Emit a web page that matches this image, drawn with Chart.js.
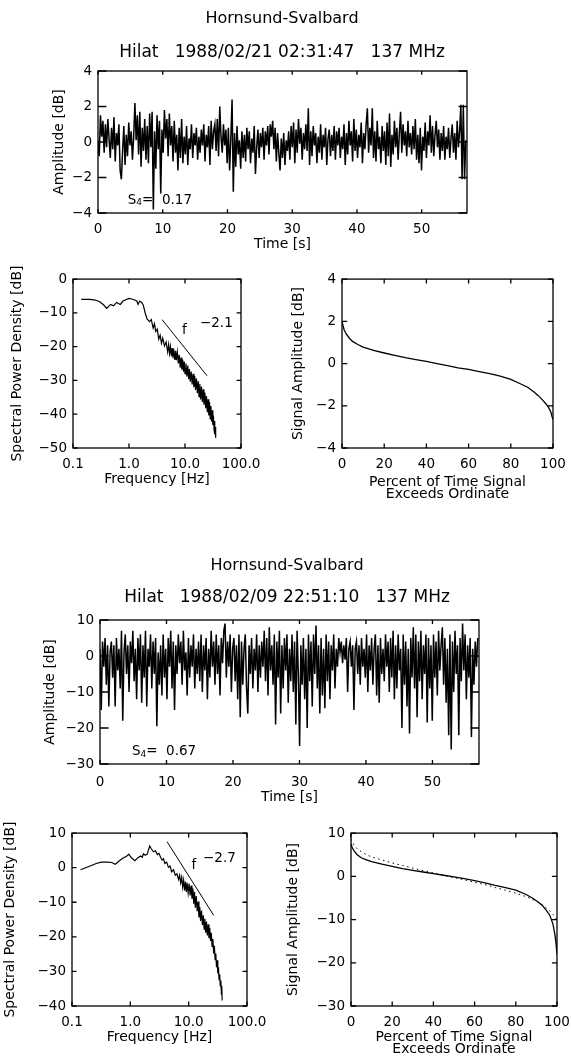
<!DOCTYPE html>
<html>
<head>
<meta charset="utf-8">
<script src="https://cdn.jsdelivr.net/npm/chart.js@4.4.1/dist/chart.umd.min.js"></script>
<style>
html, body { margin: 0; padding: 0; background: #fff; }
body { width: 571px; height: 1059px; position: relative; overflow: hidden; }
canvas { position: absolute; }
</style>
</head>
<body>
<canvas id="ampTop"></canvas>
<canvas id="psdTop"></canvas>
<canvas id="cdfTop"></canvas>
<canvas id="ampBottom"></canvas>
<canvas id="psdBottom"></canvas>
<canvas id="cdfBottom"></canvas>
<script>
// --- data ---
const timeStep = 0.19; // s between samples

// 1988/02/21 02:31:47 amplitude [dB]
const ampTop = [
    0.1, -0.8, 1.5, 0.3, 1.2, -0.6, 1.0, -0.3, 1.3, 0.2,
    -0.9, 0.8, -0.4, 1.4, -1.1, 0.5, -0.2, 1.0, -1.6, -2.1,
    -0.5, 0.9, -1.3, 0.4, -0.8, 1.1, -0.2, 0.6, -1.0, 0.3,
    2.2, 0.1, 1.5, -0.7, 1.7, -1.4, 0.8, -0.5, 1.3, -1.0,
    0.9, -1.2, 1.6, -0.3, 1.7, -3.8, 0.6, -1.5, 1.5, -0.4,
    1.2, -2.9, 0.7, -0.6, 1.8, 0.2, 1.3, -0.8, 1.6, -0.2,
    0.9, -1.1, 1.2, -0.6, 0.4, -1.6, 0.8, -0.9, 1.3, -1.2,
    0.3, -0.7, 0.9, -1.3, 0.2, -0.4, 1.0, -0.9, 0.5, -0.2,
    0.8, -1.0, 0.3, -0.6, 0.7, -0.2, 1.0, -1.1, 0.4, -0.3,
    0.9, -1.3, 1.2, -0.4, 0.6, 1.0, -0.5, 1.3, -0.8, 2.0,
    0.3, -0.6, 1.0, -0.2, 0.7, -1.2, 0.8, -1.6, 0.2, 2.4,
    -2.8, 0.5, -1.4, 0.9, -0.7, 0.1, -1.5, 0.6, -0.9, 0.4,
    -1.1, 0.8, -0.4, 0.6, -1.2, 0.2, -0.6, 0.9, -1.8, -0.3,
    0.7, -0.9, 0.5, -0.3, 0.8, -1.0, 0.6, -0.2, 0.9, -0.7,
    1.0, 0.3, 1.2, -0.4, 0.8, -1.1, 0.5, -0.6, -1.6, 0.2,
    -0.9, 0.5, -1.3, 0.1, -0.5, 0.6, -1.0, 0.9, -0.3, 1.1,
    -1.2, 0.7, -0.6, 1.3, -0.1, 0.8, -1.0, 0.5, -0.4, 1.0,
    -0.5, 1.9, -1.3, 0.6, -0.8, 0.9, -0.2, 0.5, -1.2, 0.3,
    -0.6, 1.0, -1.0, 0.4, -0.3, 0.8, -1.3, 0.2, 0.7, -0.8,
    0.4, -0.5, 0.9, -1.0, 0.6, -0.2, 0.8, -0.9, 0.3, -0.4,
    1.0, -1.3, 0.5, -0.7, 1.2, -0.2, 0.6, -1.1, 1.3, -0.5,
    0.7, -0.9, 0.4, -0.3, 1.1, -1.2, 0.5, -0.4, 1.0, 1.9,
    -0.6, 0.8, -0.2, 1.9, -0.9, 0.6, -1.1, 1.2, -0.4, 0.3,
    -1.2, 0.9, -0.5, 0.6, -1.3, 1.1, -0.8, 1.6, -1.4, 0.4,
    -0.7, 1.2, -0.3, 0.8, -1.0, 0.5, 1.7, -0.6, 1.0, -0.2,
    0.6, -0.8, 1.2, -0.3, 0.5, -0.7, 0.9, -0.4, 1.3, -1.0,
    0.4, -1.2, 0.8, -1.6, 0.3, -0.5, 1.1, -0.9, 0.6, -0.2,
    1.5, -0.6, 0.9, -0.8, 0.4, 1.2, -0.3, 0.7, -1.0, 0.5,
    -0.5, 0.9, -1.0, 0.3, -0.4, 0.8, -0.9, 0.2, 1.0, -0.6,
    0.5, -1.0, 1.2, -0.3, 0.6, 2.1, -2.1, 2.1, -2.1, 0.1
];

// 1988/02/09 22:51:10 amplitude [dB]
const ampBottom = [
    2, -15, 4, -3, 5, -8, 3, -14, 1, 4,
    -6, 3, -14, 5, -4, 2, -9, 7, -18, 1,
    6, -5, 3, -10, 4, -2, 7, -7, 2, -12,
    5, -4, 6, -13, 3, -6, 7, -14, 2, -3,
    6, -9, 4, -5, 5, -19.5, 1, -8, 3, -11,
    6, -6, 2, -12, 5, -3, 7, -9, 4, -15,
    3, -5, 6, -2, 4, -8, 7, -4, 1, -11,
    5, -6, 3, -3, 6, -9, 2, -5, 4, -7,
    6, -10, 3, -4, 5, -12, 2, -6, 7, -3,
    4, -8, 6, -5, 3, -11, 5, -2, 7, 9,
    -6, 4, -3, 6, -10, 2, 5, -7, 3, -12,
    6, -17, 4, -8, 2, 6, -9, -16, 3, -5,
    5, -9, 2, -4, 6, -10, 3, -6, 4, -3,
    7, -7, 5, -11, 8, -4, 3, -8, 6, -19,
    4, -6, 7, -16, 3, -9, 5, -4, 6, -13,
    2, -7, 6, -10, 4, -19, 7, -5, -25, 3,
    -8, 5, -12, 2, -20, 6, -7, 4, -14, 6,
    -5, 8.5, -9, 3, -16, 5, -11, 2, -14.5, 6,
    -7, 4, -12, 3, -4, 6, -9, 2, -3, 5,
    1, 4, -2, 3, -1, 5, -10, 2, 4, -3,
    3, -15, 2, 4, -5, 3, -8, 5, -3, 2,
    -6, 6, -10, 3, -4, 5, -8, 2, 6, -11,
    3, -13, 5, -5, 2, -7, 6, -3, 4, -10,
    5, -6, 7, -12, 3, -9, 6, -4, 2, -20,
    6, -8, 4, -14, 2, -21.5, 5, -6, 8, -9,
    6, -17, 4, -7, 7, -12, 3, -5, 6, -18.5,
    5, -9, 3, -18, 6, -6, 4, -11, 7, -4,
    3, 8, -8, 5, -13, 2, -22, 6, -26, 4,
    -10, 7, -5, 3, -22, 5, -7, 9, -4, 6,
    -12, 3, -6, 5, -22.5, 2, -8, 4, -3, 5
];

// spectra: frequency [Hz] and spectral power density [dB]
const freqTop = [0.14, 0.2, 0.25, 0.3, 0.35, 0.4, 0.47, 0.53, 0.6, 0.7, 0.78, 0.88, 1.0, 1.12, 1.26, 1.38, 1.45, 1.55, 1.7, 1.8,
    1.95, 2.1, 2.33, 2.5, 2.7, 2.85, 3.0, 3.2, 3.4, 3.6, 3.8, 4.0, 4.3, 4.6,
    4.9, 5.1, 5.3, 5.5, 5.7, 5.9, 6.1, 6.3, 6.6, 6.8, 7.0, 7.3, 7.6, 7.9, 8.2, 8.5, 8.8, 9.1, 9.4, 9.7,
    10.0, 10.4, 10.8, 11.2, 11.6, 12.0, 12.4, 12.9, 13.4, 13.9, 14.4, 14.9, 15.4, 16.0, 16.6, 17.2, 17.8, 18.4, 19.0, 19.7,
    20.4, 21.1, 21.8, 22.6, 23.4, 24.2, 25.0, 25.8, 26.6, 27.4, 28.2, 29.0, 29.8, 30.6, 31.4, 32.2, 33.0, 33.7, 34.3, 34.8, 35.3];
const psdTop = [-6.0, -6.0, -6.2, -6.7, -7.6, -8.7, -7.5, -7.9, -6.9, -7.5, -6.5, -6.1, -5.7, -5.9, -6.2, -6.5, -7.5, -6.5, -7.0, -7.7,
    -10.1, -11.8, -12.6, -12.0, -14.5, -13.2, -15.5, -14.8, -17.8, -16.6, -19.0, -17.5, -19.8, -18.6,
    -21.6, -19.4, -22.0, -20.0, -22.8, -20.4, -23.4, -20.8, -23.9, -21.2, -24.0, -21.6, -25.0, -22.4, -26.2, -23.2, -26.8, -23.8, -27.4, -24.4,
    -28.0, -25.0, -28.8, -25.6, -29.6, -26.6, -30.4, -27.4, -31.2, -28.0, -32.0, -28.6, -32.8, -29.4, -33.8, -30.2, -34.8, -31.0, -35.6, -31.8,
    -36.4, -32.6, -37.2, -33.6, -38.2, -34.6, -39.4, -35.6, -40.4, -36.4, -41.4, -37.6, -42.2, -38.8, -43.2, -40.4, -44.6, -42.0, -46.0, -43.8, -47.0];
const fitFreqTop = [3.9, 24.7];
const fitPsdTop = [-12.0, -28.6];

const freqBottom = [0.14, 0.2, 0.26, 0.32, 0.4, 0.48, 0.55, 0.65, 0.75, 0.85, 0.94, 1.05, 1.2, 1.35, 1.5, 1.6, 1.68, 1.8, 1.95, 2.05,
    2.15, 2.3, 2.5, 2.7, 2.9, 3.1, 3.3, 3.5, 3.7, 3.9, 4.2, 4.5, 4.8, 5.1, 5.5, 5.9, 6.3,
    6.7, 7.0, 7.3, 7.6, 7.9, 8.2, 8.5, 8.8, 9.1, 9.4, 9.8, 10.2, 10.6, 11.0, 11.4, 11.8, 12.2, 12.6, 13.0, 13.5,
    14.0, 14.5, 15.0, 15.5, 16.0, 16.6, 17.2, 17.8, 18.4, 19.0, 19.6, 20.2, 20.9, 21.6, 22.3, 23.0, 23.7, 24.4,
    25.2, 26.0, 26.8, 27.6, 28.4, 29.2, 30.0, 30.8, 31.6, 32.4, 33.2, 34.0, 34.8, 35.6, 36.4, 37.0, 37.5];
const psdBottom = [-0.6, 0.4, 1.2, 1.6, 1.6, 1.5, 1.0, 2.0, 2.8, 3.2, 3.9, 2.8, 2.0, 2.9, 3.4, 3.0, 4.0, 3.6, 3.9, 5.2,
    6.3, 5.4, 4.6, 4.9, 3.8, 4.1, 3.0, 2.2, 2.6, 1.2, 1.6, 0.1, 0.5, -1.2, -0.6, -2.2, -1.8,
    -3.4, -2.2, -4.4, -2.8, -5.6, -3.6, -6.6, -4.0, -7.0, -4.4, -7.4, -4.6, -8.0, -5.2, -9.0, -6.0, -10.4, -7.0, -11.6, -8.2,
    -12.6, -9.8, -14.4, -11.4, -15.4, -12.4, -16.6, -13.8, -17.8, -14.8, -18.8, -15.6, -19.6, -16.4, -20.4, -17.4, -21.2, -18.8,
    -22.8, -20.6, -24.8, -22.6, -26.6, -24.8, -28.8, -26.8, -30.6, -28.8, -32.4, -30.8, -34.2, -32.6, -36.6, -34.2, -38.4];
const fitFreqBottom = [4.27, 26.9];
const fitPsdBottom = [7.5, -13.8];

// amplitude distributions: percent of time exceeded, level [dB]
const pctTop = [0, 0.5, 1, 2, 3.5, 5, 7.5, 10, 15, 20, 25, 30, 35, 40, 45, 50, 55, 60, 65, 70, 75, 80, 85, 88, 91, 93, 95, 97, 98, 99, 99.5, 100];
const levelTop = [2.0, 1.8, 1.6, 1.4, 1.2, 1.05, 0.9, 0.78, 0.62, 0.5, 0.39, 0.28, 0.19, 0.1, 0.0, -0.1, -0.2, -0.28, -0.38, -0.48, -0.6, -0.75, -0.98, -1.12, -1.35, -1.52, -1.72, -1.95, -2.1, -2.3, -2.5, -2.65];

const pctBottom = [0, 0.5, 1.5, 3, 5, 7.5, 10, 15, 20, 25, 30, 35, 40, 45, 50, 55, 60, 65, 70, 75, 80, 85, 88, 91, 93, 95, 96.5, 98, 99, 99.5, 100];
const levelBottom = [7.6, 6.7, 5.9, 5.0, 4.3, 3.8, 3.4, 2.8, 2.3, 1.8, 1.4, 1.0, 0.6, 0.25, -0.15, -0.55, -1.0, -1.5, -2.1, -2.6, -3.2, -4.2, -5.0, -6.0, -6.8, -8.0, -9.0, -11.0, -13.5, -15.5, -18.0];
const modelBottom = [8.6, 8.0, 7.2, 6.4, 5.7, 5.0, 4.5, 3.8, 3.1, 2.5, 1.9, 1.3, 0.8, 0.2, -0.3, -0.8, -1.4, -1.9, -2.6, -3.2, -3.9, -4.7, -5.3, -6.0, -6.6, -7.4, -8.0, -8.8, -9.4, -9.8, -10.2];

const freqTicks = [0.1, 1, 10, 100];

// --- drawing ---
const FONT = '"DejaVu Sans", sans-serif';
Chart.defaults.font.family = FONT;
Chart.defaults.color = '#000';

function pairs(xs, ys) {
    return xs.map((x, i) => ({ x: x, y: ys[i] }));
}
function series(values) {
    return values.map((v, i) => ({ x: i * timeStep, y: v }));
}
function minusLabel(v) {
    return v < 0 ? '\u2212' + Math.abs(v) : String(v);
}

// IDL style box: full frame, inward ticks on all four sides, text notes
const decor = {
    id: 'decor',
    afterDraw(chart, args, o) {
        const { ctx, chartArea: a } = chart;
        const xs = chart.scales.x, ys = chart.scales.y;
        ctx.save();
        ctx.strokeStyle = '#000';
        ctx.lineWidth = 1.3;
        ctx.strokeRect(a.left, a.top, a.right - a.left, a.bottom - a.top);
        const xLen = 0.02 * (a.bottom - a.top) + 1;
        const yLen = 0.02 * (a.right - a.left) + 1;
        ctx.beginPath();
        xs.ticks.forEach(t => {
            const px = xs.getPixelForValue(t.value);
            ctx.moveTo(px, a.bottom); ctx.lineTo(px, a.bottom - xLen);
            ctx.moveTo(px, a.top); ctx.lineTo(px, a.top + xLen);
        });
        ys.ticks.forEach(t => {
            const py = ys.getPixelForValue(t.value);
            ctx.moveTo(a.left, py); ctx.lineTo(a.left + yLen, py);
            ctx.moveTo(a.right, py); ctx.lineTo(a.right - yLen, py);
        });
        ctx.stroke();

        ctx.fillStyle = '#000';
        ctx.textBaseline = 'middle';
        ctx.textAlign = 'left';
        (o.notes || []).forEach(n => {
            let x = xs.getPixelForValue(n.x);
            const y = ys.getPixelForValue(n.y);
            n.parts.forEach(p => {
                ctx.font = p.size + 'px ' + FONT;
                ctx.fillText(p.text, x, y + (p.dy || 0));
                x += ctx.measureText(p.text).width;
            });
        });
        if (o.heading) {
            const h = o.heading;
            ctx.textAlign = 'center';
            h.lines.forEach((s, i) => {
                ctx.font = h.sizes[i] + 'px ' + FONT;
                ctx.fillText(s, h.x - o.left, h.y[i] - o.top);
            });
        }
        ctx.restore();
    }
};

function panel(id, p) {
    const canvas = document.getElementById(id);
    const area = p.area;
    const left = Math.round(p.yTitleX - 8.4);
    const top = p.top !== undefined ? p.top : area.t - 14;
    const right = area.r + 40;
    const xTitleLH = p.xTitleLH || 16.8;
    const bottom = Math.round(p.xTitleLast + xTitleLH / 2);
    canvas.width = right - left;
    canvas.height = bottom - top;
    canvas.style.left = left + 'px';
    canvas.style.top = top + 'px';
    const yWidth = area.l - left;
    const xHeight = bottom - area.b;

    const x = Object.assign({
        type: 'linear',
        position: 'bottom',
        grid: { display: false, drawTicks: false },
        border: { display: false },
        title: { display: true, text: p.xTitle, padding: 0, font: { size: 14, lineHeight: xTitleLH + 'px' } },
        afterFit: s => { s.height = xHeight; }
    }, p.x);
    x.ticks = Object.assign({ font: { size: 13.5 }, padding: p.xTickPad || 8, autoSkip: false, maxRotation: 0 }, p.x.ticks);

    const y = Object.assign({
        type: 'linear',
        position: 'left',
        grid: { display: false, drawTicks: false },
        border: { display: false },
        title: { display: true, text: p.yTitle, padding: 0, font: { size: 14, lineHeight: 1.2 } },
        afterFit: s => { s.width = yWidth; }
    }, p.y);
    y.ticks = Object.assign({ font: { size: 13.5 }, padding: 6, autoSkip: false, callback: minusLabel }, p.y.ticks);

    return new Chart(canvas, {
        type: 'line',
        data: { datasets: p.datasets },
        options: {
            responsive: false,
            animation: false,
            events: [],
            layout: { padding: { left: 0, top: area.t - top, right: right - area.r, bottom: 0 } },
            elements: { point: { radius: 0 }, line: { borderColor: '#000', borderWidth: 1, tension: 0 } },
            plugins: {
                legend: { display: false },
                tooltip: { enabled: false },
                decor: { notes: p.notes || [], heading: p.heading, left: left, top: top }
            },
            scales: { x: x, y: y }
        },
        plugins: [decor]
    });
}

const logX = {
    type: 'logarithmic', min: 0.1, max: 100,
    afterBuildTicks: s => { s.ticks = freqTicks.map(v => ({ value: v })); },
    ticks: { callback: v => Number(v).toFixed(1) }
};

panel('ampTop', {
    area: { l: 98, t: 71, r: 467, b: 213 },
    top: 0,
    yTitleX: 59, xTitleLast: 245,
    xTitle: 'Time [s]', yTitle: 'Amplitude [dB]',
    x: { min: 0, max: 57, ticks: { stepSize: 10, includeBounds: false } },
    y: { min: -4, max: 4, ticks: { stepSize: 2 } },
    heading: { lines: ['Hornsund-Svalbard', 'Hilat   1988/02/21 02:31:47   137 MHz'], sizes: [16, 17], x: 282, y: [19, 53] },
    notes: [{ x: 4.6, y: -3.27, parts: [{ text: 'S', size: 13.5 }, { text: '4', size: 9, dy: 3 }, { text: '=  0.17', size: 13.5 }] }],
    datasets: [{ data: series(ampTop), borderWidth: 1.5 }]
});

panel('psdTop', {
    area: { l: 73, t: 279, r: 241, b: 448 },
    yTitleX: 17, xTitleLast: 480,
    xTitle: 'Frequency [Hz]', yTitle: 'Spectral Power Density [dB]',
    x: logX,
    y: { min: -50, max: 0, ticks: { stepSize: 10 } },
    notes: [
        { x: 8.8, y: -15.1, parts: [{ text: 'f', size: 13.5 }] },
        { x: 18.5, y: -13.1, parts: [{ text: '\u22122.1', size: 13.5 }] }
    ],
    datasets: [
        { data: pairs(freqTop, psdTop), borderWidth: 1.2 },
        { data: pairs(fitFreqTop, fitPsdTop) }
    ]
});

panel('cdfTop', {
    area: { l: 342, t: 279, r: 553, b: 448 },
    yTitleX: 298, xTitleLast: 494, xTitleLH: 12,
    xTitle: ['Percent of Time Signal', 'Exceeds Ordinate'], yTitle: 'Signal Amplitude [dB]',
    x: { min: 0, max: 100, ticks: { stepSize: 20 } },
    y: { min: -4, max: 4, ticks: { stepSize: 2 } },
    datasets: [{ data: pairs(pctTop, levelTop), borderWidth: 1.3 }]
});

panel('ampBottom', {
    area: { l: 100, t: 620, r: 479, b: 764 },
    top: 548,
    yTitleX: 50, xTitleLast: 798, xTickPad: 10,
    xTitle: 'Time [s]', yTitle: 'Amplitude [dB]',
    x: { min: 0, max: 57, ticks: { stepSize: 10, includeBounds: false } },
    y: { min: -30, max: 10, ticks: { stepSize: 10 } },
    heading: { lines: ['Hornsund-Svalbard', 'Hilat   1988/02/09 22:51:10   137 MHz'], sizes: [16, 17], x: 287, y: [566, 598] },
    notes: [{ x: 4.8, y: -26.6, parts: [{ text: 'S', size: 13.5 }, { text: '4', size: 9, dy: 3 }, { text: '=  0.67', size: 13.5 }] }],
    datasets: [{ data: series(ampBottom), borderWidth: 1.5 }]
});

panel('psdBottom', {
    area: { l: 72, t: 833, r: 247, b: 1006 },
    yTitleX: 10, xTitleLast: 1038,
    xTitle: 'Frequency [Hz]', yTitle: 'Spectral Power Density [dB]',
    x: logX,
    y: { min: -40, max: 10, ticks: { stepSize: 10 } },
    notes: [
        { x: 11.2, y: 0.75, parts: [{ text: 'f', size: 13.5 }] },
        { x: 17.6, y: 2.7, parts: [{ text: '\u22122.7', size: 13.5 }] }
    ],
    datasets: [
        { data: pairs(freqBottom, psdBottom), borderWidth: 1.2 },
        { data: pairs(fitFreqBottom, fitPsdBottom) }
    ]
});

panel('cdfBottom', {
    area: { l: 351, t: 833, r: 557, b: 1006 },
    yTitleX: 293, xTitleLast: 1049, xTitleLH: 12,
    xTitle: ['Percent of Time Signal', 'Exceeds Ordinate'], yTitle: 'Signal Amplitude [dB]',
    x: { min: 0, max: 100, ticks: { stepSize: 20 } },
    y: { min: -30, max: 10, ticks: { stepSize: 10 } },
    datasets: [
        { data: pairs(pctBottom, levelBottom), borderWidth: 1.3 },
        { data: pairs(pctBottom, modelBottom), borderDash: [1.5, 3.5] }
    ]
});
</script>
</body>
</html>
